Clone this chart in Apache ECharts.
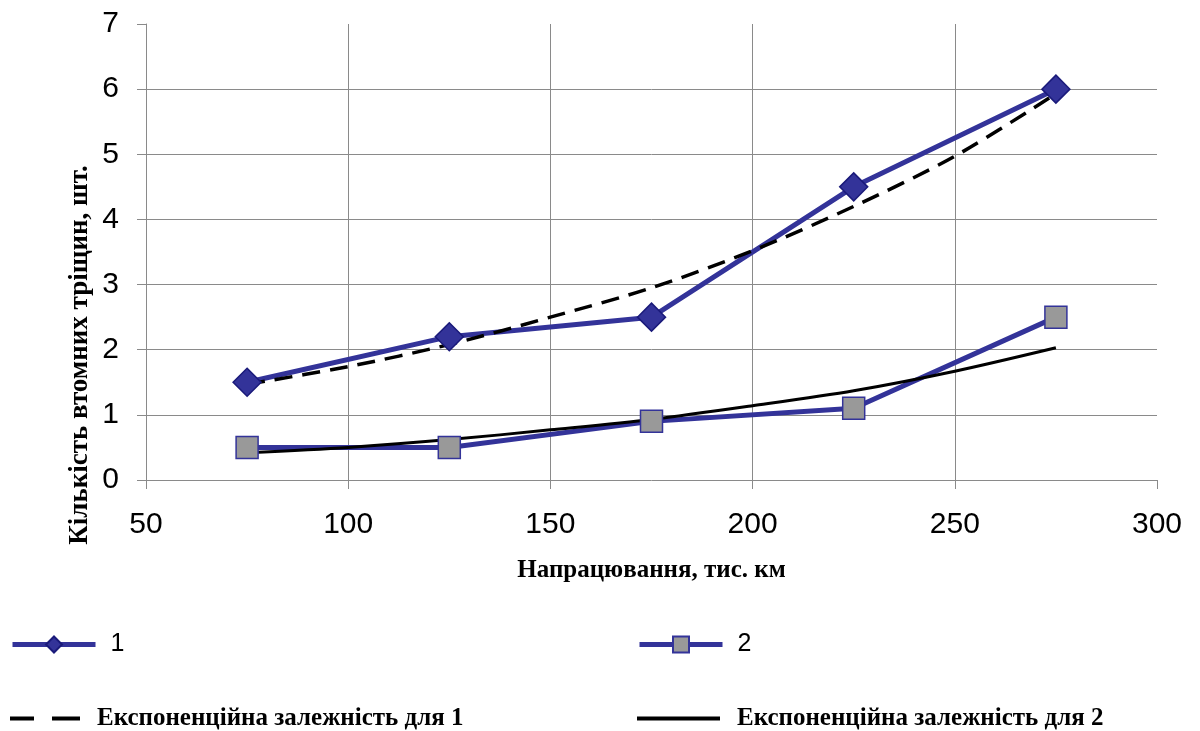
<!DOCTYPE html>
<html>
<head>
<meta charset="utf-8">
<script src="https://cdn.jsdelivr.net/npm/echarts@6/dist/echarts.min.js"></script>
<style>
  html, body { margin: 0; padding: 0; background: #fff; }
  #chart { width: 1200px; height: 731px; }
</style>
</head>
<body>
<div id="chart"></div>
<script>
// пробіг, тис. км
var xKm = [75, 125, 175, 225, 275];
// кількість тріщин
var cracks1 = [1.5, 2.2, 2.5, 4.5, 6];
var cracks2 = [0.5, 0.5, 0.9, 1.1, 2.5];
// лінії тренду
var trendX = [75, 100, 125, 150, 175, 200, 225, 250, 275];
var trend1 = [1.47, 1.74, 2.08, 2.5, 2.95, 3.52, 4.2, 4.97, 5.93];
var trend2 = [0.42, 0.5, 0.62, 0.77, 0.93, 1.14, 1.37, 1.67, 2.03];

var names = ['1', '2', 'Експоненційна залежність для 1', 'Експоненційна залежність для 2'];

function pairs(xs, ys) {
  var out = [];
  for (var i = 0; i < xs.length; i++) out.push([xs[i], ys[i]]);
  return out;
}

var sans = 'Liberation Sans, Arial, sans-serif';
var serif = 'Liberation Serif, Times New Roman, serif';
var gridColor = '#8a8a8a';

var chart = echarts.init(document.getElementById('chart'));
var option = {
  backgroundColor: '#fff',
  animation: false,
  grid: { left: 146, right: 43, top: 24, bottom: 251 },
  xAxis: {
    type: 'value', min: 50, max: 300, interval: 50,
    name: 'Напрацювання, тис. км',
    nameLocation: 'middle', nameGap: 78,
    nameTextStyle: { fontFamily: serif, fontWeight: 'bold', fontSize: 25, color: '#000' },
    axisLine: { show: true, lineStyle: { color: gridColor, width: 1 } },
    axisTick: { show: true, length: 9, lineStyle: { color: gridColor } },
    axisLabel: { fontFamily: sans, fontSize: 30, color: '#000', margin: 30 },
    splitLine: { show: true, showMinLine: false, showMaxLine: false, lineStyle: { color: gridColor, width: 1 } }
  },
  yAxis: {
    type: 'value', min: 0, max: 7, interval: 1,
    axisLine: { show: true, lineStyle: { color: gridColor, width: 1 } },
    axisTick: { show: true, length: 9, lineStyle: { color: gridColor } },
    axisLabel: { fontFamily: sans, fontSize: 30, color: '#000', margin: 27 },
    splitLine: { show: true, showMinLine: false, showMaxLine: false, lineStyle: { color: gridColor, width: 1 } }
  },
  graphic: [{
    type: 'text', x: 80, y: 355,
    rotation: Math.PI / 2,
    style: {
      x: 0, y: 0, align: 'center', verticalAlign: 'middle',
      text: 'Кількість втомних тріщин, шт.',
      font: 'bold 27px ' + serif, fill: '#000'
    }
  }],
  legend: [
    {
      data: [names[0]], left: 10, top: 632, padding: 0,
      itemWidth: 83, itemHeight: 20,
      lineStyle: { width: 5 },
      textStyle: { fontFamily: sans, fontSize: 25, color: '#000', padding: [0, 0, 0, 10] }
    },
    {
      data: [names[1]], left: 637, top: 632, padding: 0,
      itemWidth: 83, itemHeight: 20,
      lineStyle: { width: 5 },
      textStyle: { fontFamily: sans, fontSize: 25, color: '#000', padding: [0, 0, 0, 10] }
    },
    {
      data: [names[2]], left: 10, top: 706, padding: 0,
      itemWidth: 70, itemHeight: 4,
      icon: 'path://M0,0h24v4h-24z M42,0h28v4h-28z',
      textStyle: { fontFamily: serif, fontWeight: 'bold', fontSize: 25, color: '#000', padding: [0, 0, 0, 12] }
    },
    {
      data: [names[3]], left: 637, top: 706, padding: 0,
      itemWidth: 83, itemHeight: 4, icon: 'rect',
      textStyle: { fontFamily: serif, fontWeight: 'bold', fontSize: 25, color: '#000', padding: [0, 0, 0, 12] }
    }
  ],
  series: [
    {
      name: names[0], type: 'line', data: pairs(xKm, cracks1),
      symbol: 'diamond', symbolSize: 28,
      lineStyle: { color: '#333399', width: 5 },
      itemStyle: { color: '#333399', borderColor: '#1a1a7a', borderWidth: 1.5 }
    },
    {
      name: names[1], type: 'line', data: pairs(xKm, cracks2),
      symbol: 'rect', symbolSize: 22,
      lineStyle: { color: '#333399', width: 5 },
      itemStyle: { color: '#999999', borderColor: '#333399', borderWidth: 1.5 }
    },
    {
      name: names[2], type: 'line', data: pairs(trendX, trend1),
      symbol: 'none', smooth: 0.3,
      lineStyle: { color: '#000', width: 3.5, type: [18, 10] },
      itemStyle: { color: '#000' }
    },
    {
      name: names[3], type: 'line', data: pairs(trendX, trend2),
      symbol: 'none', smooth: 0.3,
      lineStyle: { color: '#000', width: 3 },
      itemStyle: { color: '#000' }
    }
  ]
};
chart.setOption(option);
</script>
</body>
</html>
